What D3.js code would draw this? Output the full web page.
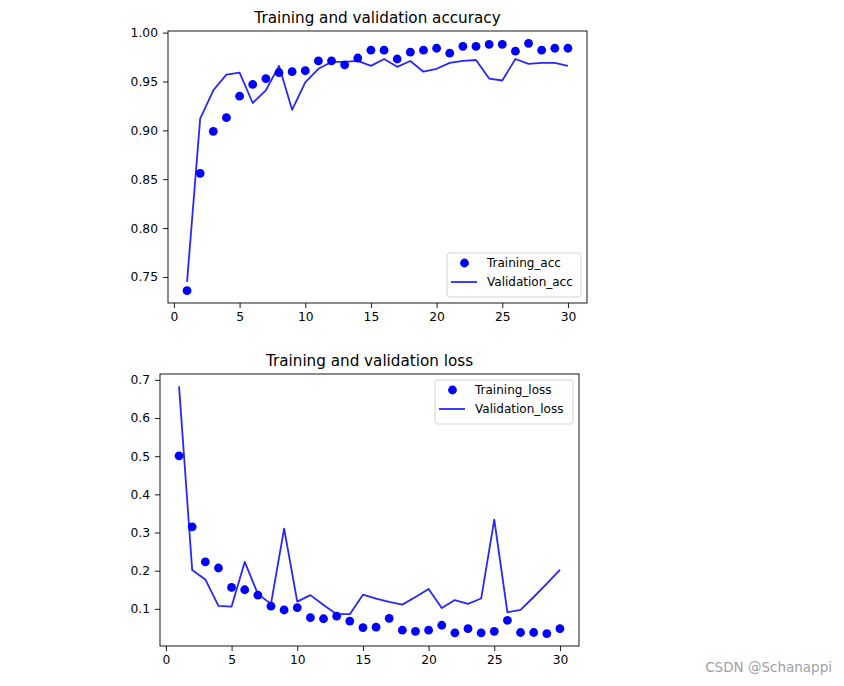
<!DOCTYPE html>
<html>
<head>
<meta charset="utf-8">
<script src="https://cdn.jsdelivr.net/npm/d3@7"></script>
<style>
  html, body { margin: 0; padding: 0; background: #fff; }
  svg { display: block; }
  text { font-family: "DejaVu Sans", sans-serif; fill: #000; }
</style>
</head>
<body>
<svg id="chart" width="844" height="686"></svg>
<script>
// ---- data ----
const epochs = [1,2,3,4,5,6,7,8,9,10,11,12,13,14,15,16,17,18,19,20,21,22,23,24,25,26,27,28,29,30];
const trainingAcc = [0.736,0.856,0.899,0.913,0.935,0.947,0.953,0.959,0.960,0.961,0.971,0.971,0.967,0.974,0.982,0.982,0.973,0.980,0.982,0.984,0.979,0.986,0.986,0.988,0.988,0.981,0.989,0.982,0.984,0.984];
const validationAcc = [0.745,0.912,0.941,0.957,0.959,0.928,0.941,0.966,0.921,0.949,0.963,0.970,0.970,0.971,0.966,0.973,0.965,0.971,0.960,0.963,0.969,0.971,0.972,0.953,0.951,0.973,0.968,0.969,0.969,0.966];
const trainingLoss = [0.501,0.315,0.223,0.207,0.156,0.150,0.136,0.107,0.097,0.103,0.077,0.074,0.081,0.068,0.051,0.052,0.075,0.044,0.041,0.044,0.057,0.037,0.048,0.037,0.041,0.070,0.038,0.038,0.035,0.048];
const validationLoss = [0.683,0.202,0.177,0.108,0.106,0.223,0.139,0.113,0.310,0.119,0.136,0.110,0.086,0.086,0.137,0.127,0.118,0.111,0.131,0.152,0.102,0.123,0.113,0.127,0.334,0.091,0.097,0.131,0.166,0.202];
const xTicks = [0,5,10,15,20,25,30];
const accTicks = [0.75,0.80,0.85,0.90,0.95,1.00];
const lossTicks = [0.1,0.2,0.3,0.4,0.5,0.6,0.7];
const accTitle = "Training and validation accuracy";
const lossTitle = "Training and validation loss";
const accLegend = ["Training_acc", "Validation_acc"];
const lossLegend = ["Training_loss", "Validation_loss"];
const watermark = "CSDN @Schanappi";

// ---- drawing ----
const svg = d3.select("#chart");
const BLUE = "#0000ff";

function padded(lo, hi) {
  const m = (hi - lo) * 0.05;
  return [lo - m, hi + m];
}

function panel(opts) {
  const {left, top, width, height, train, val, yTicks, yFmt, title, legend, legendPos} = opts;
  const g = svg.append("g").attr("transform", `translate(${left},${top})`);
  const x = d3.scaleLinear().domain(padded(d3.min(epochs), d3.max(epochs))).range([0, width]);
  const all = train.concat(val);
  const y = d3.scaleLinear().domain(padded(d3.min(all), d3.max(all))).range([height, 0]);

  // axes
  const xa = g.append("g").attr("transform", `translate(0,${height})`)
    .call(d3.axisBottom(x).tickValues(xTicks).tickSize(5).tickPadding(4).tickFormat(d3.format("d")));
  const ya = g.append("g")
    .call(d3.axisLeft(y).tickValues(yTicks).tickSize(5).tickPadding(5).tickFormat(yFmt));
  [xa, ya].forEach(a => {
    a.select(".domain").remove();
    a.selectAll(".tick line").attr("stroke", "#000").attr("stroke-width", 0.9);
    a.selectAll(".tick text").attr("font-size", 12.3).attr("font-family", "DejaVu Sans").attr("fill", "#1a1a1a");
  });

  // validation line
  const line = d3.line().x((d, i) => x(epochs[i])).y(d => y(d));
  g.append("path").datum(val).attr("d", line)
    .attr("fill", "none").attr("stroke", BLUE).attr("stroke-width", 1.8).attr("stroke-opacity", 0.85)
    .attr("stroke-linejoin", "round");
  // training points
  g.selectAll("circle.pt").data(train).join("circle").attr("class", "pt")
    .attr("cx", (d, i) => x(epochs[i])).attr("cy", d => y(d)).attr("r", 4.4).attr("fill", BLUE);

  // frame
  g.append("rect").attr("x", 0).attr("y", 0).attr("width", width).attr("height", height)
    .attr("fill", "none").attr("stroke", "#000").attr("stroke-width", 0.9);

  // title
  g.append("text").attr("x", width / 2).attr("y", -8).attr("text-anchor", "middle")
    .attr("font-size", 15.2).attr("fill", "#111").text(title);

  // legend
  const lg = g.append("g").attr("transform", `translate(${legendPos[0]},${legendPos[1]})`);
  lg.append("rect").attr("x", 0).attr("y", 0).attr("width", legendPos[2]).attr("height", 44)
    .attr("rx", 3).attr("fill", "#fff").attr("fill-opacity", 0.8).attr("stroke", "#d5d5d5").attr("stroke-width", 1);
  lg.append("circle").attr("cx", 17.5).attr("cy", 10).attr("r", 4.4).attr("fill", BLUE);
  lg.append("line").attr("x1", 4).attr("x2", 30).attr("y1", 29).attr("y2", 29)
    .attr("stroke", BLUE).attr("stroke-width", 1.8).attr("stroke-opacity", 0.85);
  lg.append("text").attr("x", 40).attr("y", 10).attr("dy", "0.35em").attr("font-size", 12).attr("fill", "#1a1a1a").text(legend[0]);
  lg.append("text").attr("x", 40).attr("y", 29).attr("dy", "0.35em").attr("font-size", 12).attr("fill", "#1a1a1a").text(legend[1]);
}

panel({left: 168, top: 31, width: 419, height: 272, train: trainingAcc, val: validationAcc,
  yTicks: accTicks, yFmt: d3.format(".2f"), title: accTitle, legend: accLegend, legendPos: [279, 222, 134]});
panel({left: 160, top: 374, width: 419, height: 272, train: trainingLoss, val: validationLoss,
  yTicks: lossTicks, yFmt: d3.format(".1f"), title: lossTitle, legend: lossLegend, legendPos: [275, 6, 138]});

svg.append("text").attr("x", 832).attr("y", 672).attr("text-anchor", "end")
  .attr("font-family", "Liberation Sans, Arial, sans-serif").attr("font-size", 13.5)
  .style("fill", "#a0a0a0").text(watermark);
</script>
</body>
</html>
